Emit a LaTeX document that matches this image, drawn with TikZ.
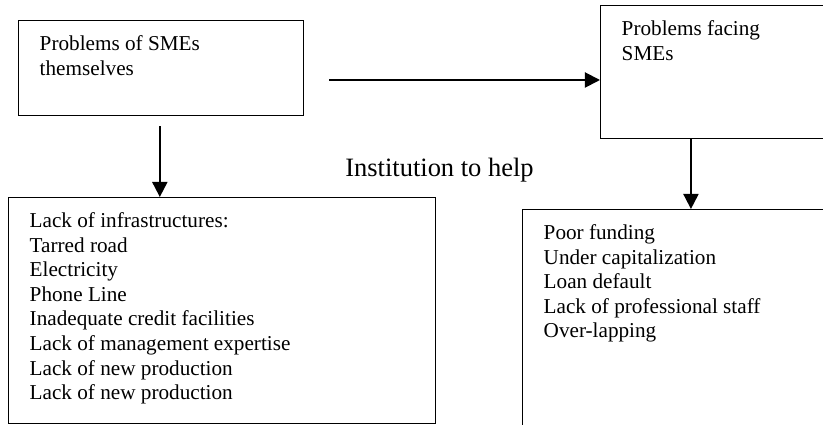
\documentclass[tikz,border=0pt]{standalone}
\usepackage{fontspec}
\setmainfont{Liberation Serif}
\usetikzlibrary{arrows.meta}

\begin{document}
\begin{tikzpicture}[x=0.5662pt, y=-0.5662pt]
  \useasboundingbox (0, 0) rectangle (823, 425);
  \clip (0, 0) rectangle (823, 425);  % rechts und unten abgeschnitten
  \tikzstyle{box}=[draw, line width=0.8pt, anchor=north west, inner xsep=11.9pt, inner ysep=8pt,
                   font=\fontsize{12}{13.9}\selectfont]
  \tikzstyle{arr}=[line width=1.1pt, -{Triangle[length=8.5pt, width=8.5pt]}]

  \node[box] (a) at (18,  20) {\parbox[t][37.8pt][t]{137.6pt}{\rule{0pt}{9pt}Problems of SMEs\\themselves}};
  \node[box] (b) at (600,  5) {\parbox[t][59.3pt][t]{112.1pt}{\rule{0pt}{9pt}Problems facing\\SMEs}};
  \node[box] (c) at (8,  197) {\parbox[t][112pt][t]{218pt}{\rule{0pt}{9pt}Lack of infrastructures:\\Tarred road\\Electricity\\Phone Line\\Inadequate credit facilities\\Lack of management expertise\\Lack of new production\\Lack of new production}};
  \node[box] (d) at (522, 209) {\parbox[t][114.2pt][t]{157.4pt}{\rule{0pt}{9pt}Poor funding\\Under capitalization\\Loan default\\Lack of professional staff\\Over-lapping}};

  \node[anchor=base, font=\fontsize{15}{18}\selectfont] (help) at (439.5, 177) {Institution to help};

  \coordinate (start) at (329, 80);
  \draw[arr] (start) -- (start -| b.west);
  \draw[arr, shorten <=5.7pt] ([xshift=-0.8pt]a.south) -- ([xshift=-0.8pt]a.south |- c.north);
  \draw[arr] ([xshift=51.5pt]b.south west) -- ([xshift=51.5pt]b.south west |- d.north);
\end{tikzpicture}
\end{document}
